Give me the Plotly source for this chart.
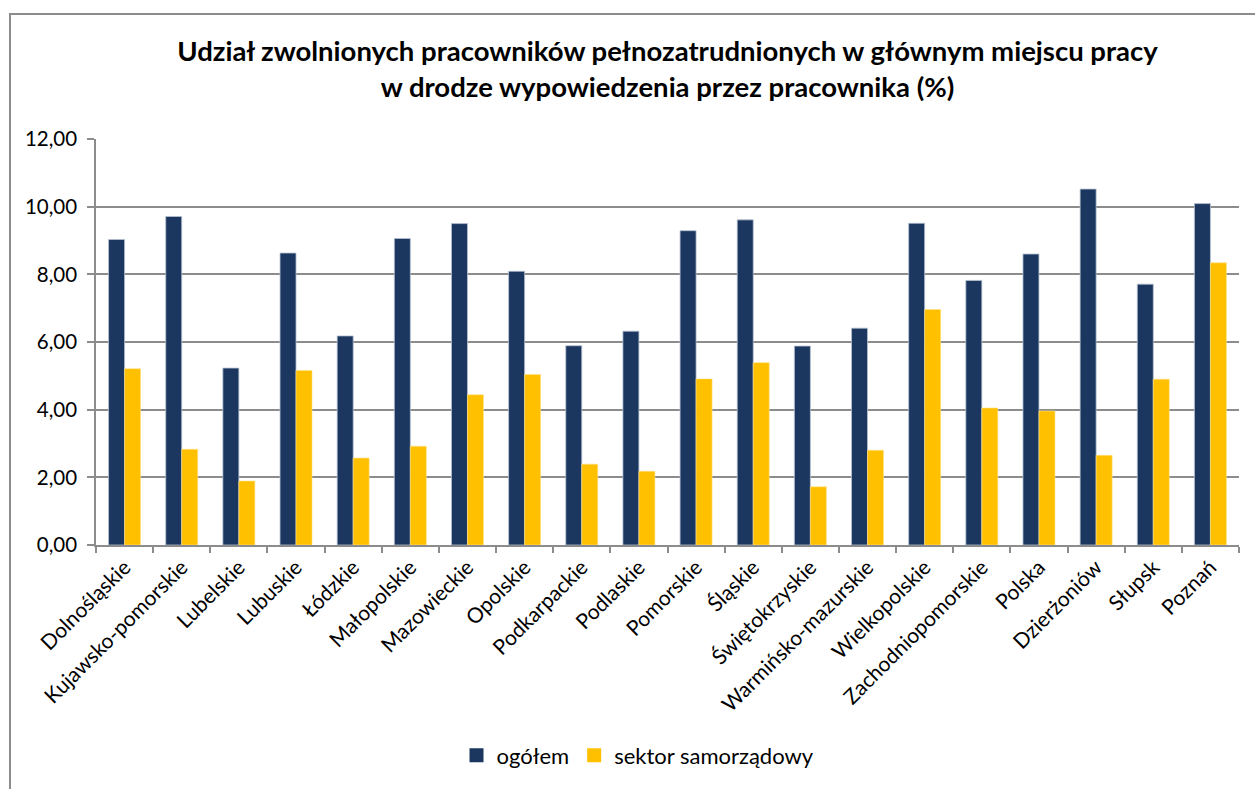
import plotly.graph_objects as go

categories = [
    "Dolnośląskie", "Kujawsko-pomorskie", "Lubelskie", "Lubuskie", "Łódzkie",
    "Małopolskie", "Mazowieckie", "Opolskie", "Podkarpackie", "Podlaskie",
    "Pomorskie", "Śląskie", "Świętokrzyskie", "Warmińsko-mazurskie",
    "Wielkopolskie", "Zachodniopomorskie", "Polska", "Dzierżoniów", "Słupsk", "Poznań",
]
ogolem = [9.03, 9.71, 5.23, 8.63, 6.18, 9.06, 9.50, 8.09, 5.89, 6.32,
          9.29, 9.61, 5.88, 6.41, 9.51, 7.82, 8.60, 10.52, 7.71, 10.09]
sektor = [5.21, 2.83, 1.89, 5.16, 2.57, 2.92, 4.44, 5.04, 2.39, 2.18,
          4.91, 5.39, 1.72, 2.80, 6.96, 4.05, 3.96, 2.65, 4.90, 8.34]
series_names = ["ogółem", "sektor samorządowy"]

FONT = "Lato, 'Open Sans', sans-serif"
NAVY = "#1b375f"
GOLD = "#ffc000"
GRID = "#8c8c8c"

fig = go.Figure()
fig.add_trace(go.Bar(
    x=categories, y=ogolem, name=series_names[0], showlegend=False,
    legendgroup="a",
    marker=dict(color=NAVY, line=dict(color="#b8c3d3", width=0.8)),
))
fig.add_trace(go.Bar(
    x=categories, y=sektor, name=series_names[1], showlegend=False,
    legendgroup="b",
    marker=dict(color=GOLD, line=dict(color="#ffe08a", width=0.6)),
))
# Legend entries with larger square keys
for name, color, grp in [(series_names[0], NAVY, "a"), (series_names[1], GOLD, "b")]:
    fig.add_trace(go.Scatter(
        x=[None], y=[None], mode="markers", name=name, legendgroup=grp,
        marker=dict(symbol="square", size=14, color=color),
    ))

W, H = 1255, 789
L, R, T, B = 96, 16, 139, 241
pw, ph = W - L - R, H - T - B


def px_x(x):
    return (x - L) / pw


def px_y(y):
    return (H - B - y) / ph


fig.update_layout(
    width=W, height=H,
    margin=dict(l=L, r=R, t=T, b=B),
    paper_bgcolor="white", plot_bgcolor="white",
    separators=", ",
    font=dict(family=FONT, size=20, color="#000000"),
    barmode="group", bargap=0.44, bargroupgap=0,
    title=dict(
        text="Udział zwolnionych pracowników pełnozatrudnionych w głównym miejscu pracy<br>"
             "w drodze wypowiedzenia przez pracownika (%)",
        x=0.5, xanchor="center", xref="paper",
        y=1 - 61 / H, yanchor="middle",
        font=dict(family=FONT, size=27.5, color="#000000", weight="bold"),
    ),
    legend=dict(
        orientation="h", x=px_x(638), xanchor="center",
        y=px_y(760), yanchor="middle",
        font=dict(family=FONT, size=22),
        itemwidth=30, tracegroupgap=0,
        bgcolor="rgba(0,0,0,0)",
    ),
    xaxis=dict(
        type="category", tickangle=-45, tickson="boundaries",
        ticks="outside", ticklen=6, tickcolor=GRID, tickwidth=1.5,
        showline=True, linecolor=GRID, linewidth=1.5,
        showgrid=False, tickfont=dict(family=FONT, size=21),
    ),
    yaxis=dict(
        range=[0, 12], dtick=2, tickformat=".2f",
        ticks="outside", ticklen=7, tickcolor=GRID, tickwidth=1.5,
        showline=True, linecolor=GRID, linewidth=1.5,
        showgrid=True, gridcolor=GRID, gridwidth=1.5,
        zeroline=False, tickfont=dict(family=FONT, size=20.5),
        ticklabelstandoff=6,
    ),
    shapes=[dict(
        type="rect", xref="paper", yref="paper",
        x0=px_x(10), x1=px_x(1262), y0=px_y(800), y1=px_y(13),
        line=dict(color=GRID, width=2), fillcolor="rgba(0,0,0,0)", layer="below",
    )],
)

fig.write_html("out.html")
